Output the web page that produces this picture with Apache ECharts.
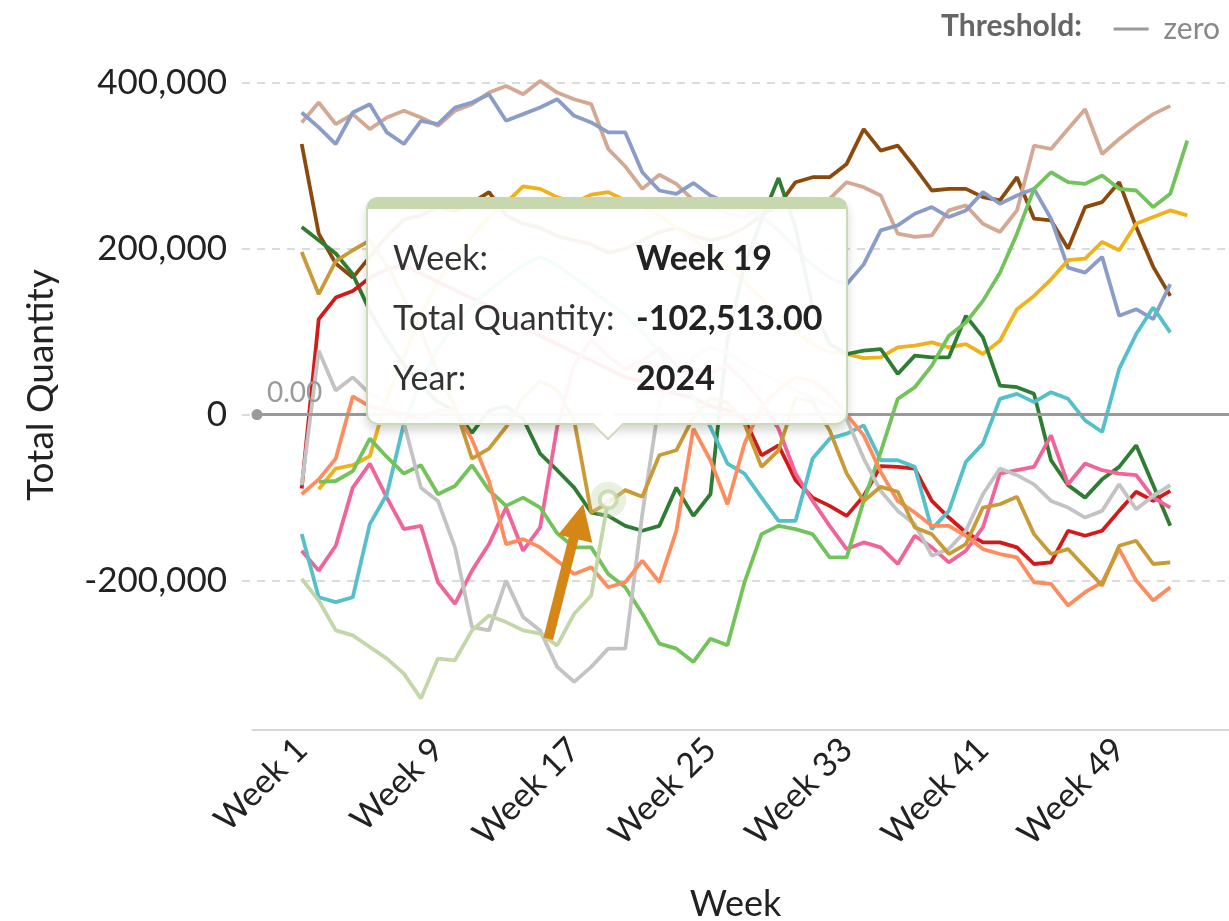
<!DOCTYPE html>
<html>
<head>
<meta charset="utf-8">
<script src="https://cdn.jsdelivr.net/npm/echarts@6/dist/echarts.min.js"></script>
<style>
html,body{margin:0;padding:0;background:#fff;}
#chart{width:1229px;height:921px;}
</style>
</head>
<body>
<div id="chart"></div>
<script>
// ---------- data ----------
const weeks = [1,2,3,4,5,6,7,8,9,10,11,12,13,14,15,16,17,18,19,20,21,22,23,24,25,26,27,28,29,30,31,32,33,34,35,36,37,38,39,40,41,42,43,44,45,46,47,48,49,50,51,52,53];
const xTickWeeks = [1,9,17,25,33,41,49];
const yTickValues = [-200000,0,200000,400000];

const years = ['2012','2013','2014','2015','2016','2017','2018','2019','2020','2021','2022','2023','2024'];
const colors = ['#8b4a0c','#d4a892','#8a9cc8','#f0b21c','#2e7d32','#d11a1a','#f0649a','#55c0cb','#72c35a','#c3c3c3','#fd8d5f','#c99a35','#c2d6a8'];

const qty2012 = [326000,218000,182000,165000,190000,215000,235000,240000,250000,245000,255000,268000,240000,230000,225000,215000,210000,205000,195000,200000,210000,220000,225000,215000,210000,215000,225000,240000,252000,280000,286000,286000,302000,344000,318000,324000,298000,270000,272000,272000,262000,258000,286000,236000,234000,200000,250000,256000,280000,226000,178000,143000,null];
const qty2013 = [352000,376000,350000,362000,344000,358000,366000,358000,348000,366000,374000,388000,396000,386000,402000,388000,380000,374000,320000,299000,272000,289000,278000,258000,250000,242000,238000,246000,255000,250000,258000,260000,280000,274000,264000,218000,214000,216000,246000,252000,230000,220000,246000,324000,320000,344000,368000,314000,332000,348000,362000,372000,null];
const qty2014 = [364000,346000,326000,364000,374000,340000,326000,354000,350000,370000,376000,386000,354000,362000,370000,380000,360000,352000,340000,340000,292000,270000,266000,279000,264000,255000,248000,238000,222000,200000,180000,165000,157000,181000,222000,228000,242000,250000,238000,246000,268000,254000,264000,272000,236000,177000,171000,190000,119000,127000,115000,157000,null];
const qty2015 = [null,-90000,-65000,-61000,-50000,20000,70000,120000,160000,190000,215000,238000,255000,275000,272000,262000,255000,265000,268000,258000,250000,240000,225000,210000,195000,178000,160000,140000,120000,100000,85000,75000,73000,68000,69000,81000,83000,87000,81000,85000,73000,89000,127000,143000,163000,186000,188000,208000,198000,230000,238000,246000,240000];
const qty2016 = [226000,210000,194000,169000,125000,90000,60000,35000,15000,5000,-22000,5000,10000,-5000,-47000,-67000,-88000,-118000,-122000,-134000,-140000,-134000,-88000,-122000,-96000,90000,180000,235000,285000,225000,130000,85000,73000,77000,79000,49000,71000,69000,69000,119000,93000,35000,33000,25000,-55000,-85000,-100000,-78000,-63000,-37000,-85000,-134000,null];
const qty2017 = [-89000,115000,141000,149000,165000,175000,180000,170000,160000,150000,140000,130000,120000,105000,95000,85000,75000,65000,55000,45000,40000,30000,25000,20000,10000,5000,-5000,-49000,-37000,-79000,-100000,-110000,-122000,-98000,-62000,-63000,-65000,-104000,-124000,-142000,-154000,-154000,-160000,-180000,-178000,-140000,-146000,-140000,-116000,-93000,-104000,-92000,null];
const qty2018 = [-164000,-188000,-158000,-88000,-59000,-100000,-138000,-134000,-202000,-228000,-188000,-156000,-112000,-164000,-136000,-15000,60000,90000,70000,55000,65000,80000,60000,45000,50000,60000,40000,15000,-17000,-71000,-104000,-134000,-162000,-154000,-160000,-180000,-146000,-160000,-178000,-164000,-136000,-71000,-67000,-63000,-25000,-84000,-59000,-67000,-71000,-73000,-100000,-112000,null];
const qty2019 = [-144000,-220000,-226000,-220000,-132000,-96000,-11000,40000,80000,110000,130000,150000,165000,180000,190000,180000,165000,150000,135000,120000,100000,75000,50000,20000,-15000,-59000,-71000,-100000,-128000,-128000,-53000,-29000,-23000,-13000,-55000,-55000,-63000,-138000,-116000,-57000,-35000,19000,25000,15000,27000,19000,-7000,-21000,55000,97000,129000,99000,null];
const qty2020 = [null,-81000,-80000,-68000,-29000,-51000,-71000,-61000,-96000,-86000,-61000,-91000,-110000,-100000,-112000,-143000,-160000,-160000,-192000,-208000,-240000,-276000,-282000,-298000,-270000,-278000,-202000,-144000,-134000,-138000,-144000,-172000,-172000,-104000,-45000,19000,33000,59000,95000,111000,137000,171000,218000,272000,292000,280000,278000,288000,272000,270000,250000,266000,330000];
const qty2021 = [-85000,77000,29000,45000,25000,15000,-10000,-88000,-104000,-160000,-256000,-260000,-200000,-244000,-260000,-304000,-322000,-304000,-282000,-282000,-120000,15000,45000,70000,80000,75000,60000,50000,40000,30000,20000,10000,-5000,-53000,-92000,-116000,-132000,-170000,-162000,-140000,-96000,-65000,-73000,-84000,-104000,-112000,-124000,-116000,-84000,-114000,-98000,-85000,null];
const qty2022 = [-96000,-78000,-53000,22000,10000,5000,0,-5000,5000,5000,-30000,-80000,-156000,-150000,-160000,-176000,-192000,-184000,-208000,-202000,-176000,-202000,-140000,-17000,-55000,-108000,-35000,9000,30000,45000,40000,25000,0,-25000,-69000,-104000,-118000,-134000,-134000,-146000,-162000,-168000,-172000,-202000,-204000,-230000,-214000,-202000,-162000,-200000,-224000,-208000,null];
const qty2023 = [196000,145000,185000,198000,210000,180000,140000,100000,50000,10000,-53000,-41000,-15000,20000,40000,30000,-7000,-118000,-106000,-91000,-99000,-49000,-43000,-3000,20000,15000,-11000,-63000,-43000,20000,15000,-19000,-71000,-104000,-87000,-93000,-136000,-144000,-168000,-156000,-112000,-108000,-99000,-144000,-168000,-162000,-184000,-206000,-158000,-152000,-180000,-178000,null];
const qty2024 = [-198000,-224000,-260000,-266000,-280000,-294000,-312000,-342000,-294000,-296000,-260000,-242000,-250000,-260000,-264000,-278000,-240000,-218000,-102513];

const highlightWeek = 19;
const thresholdValue = 0;

// ---------- chart ----------
const allQty = [qty2012,qty2013,qty2014,qty2015,qty2016,qty2017,qty2018,qty2019,qty2020,qty2021,qty2022,qty2023,qty2024];
const X_MIN = -2.505, X_MAX = 55.45, Y_MIN = -380000, Y_MAX = 420000;
const FONT = 'Lato';
const hlColor = colors[12];
const hlIndex = weeks.indexOf(highlightWeek);
const hlValue = qty2024[hlIndex];

const lineSeries = allQty.map((arr, k) => ({
  name: years[k],
  type: 'line',
  data: weeks.map((w, i) => [w, arr[i]]).filter(p => p[1] !== null && p[1] !== undefined),
  showSymbol: false,
  symbol: 'none',
  lineStyle: {width: 3.8, color: colors[k]},
  itemStyle: {color: colors[k]},
  emphasis: {disabled: true},
  silent: true,
  z: 2
}));

const zeroSeries = {
  name: 'zero',
  type: 'line',
  data: [],
  lineStyle: {color: '#9a9a9a', width: 3},
  itemStyle: {color: '#9a9a9a'},
  markLine: {
    silent: true,
    animation: false,
    symbol: ['none', 'none'],
    lineStyle: {color: '#9a9a9a', width: 3, type: 'solid'},
    data: [
      [
        {coord: [-1.625, thresholdValue], symbol: 'circle', symbolSize: 11,
         label: {show: true, formatter: '0.00', position: 'insideStartTop', distance: [10, 8],
                 fontFamily: FONT, fontSize: 28, color: '#9a9a9a'}},
        {coord: [X_MAX, thresholdValue], symbol: 'none'}
      ],
      [
        {coord: [-1.94, Y_MIN], symbol: 'none', lineStyle: {color: '#d6d6d6', width: 2, type: 'solid'}, label: {show: false}},
        {coord: [X_MAX, Y_MIN], symbol: 'none'}
      ]
    ]
  },
  z: 3
};

const haloSeries = {
  name: years[12] + ' halo',
  type: 'scatter',
  data: [[highlightWeek, hlValue]],
  symbol: 'circle',
  symbolSize: 36,
  itemStyle: {color: 'rgba(194,214,168,0.45)'},
  emphasis: {disabled: true},
  z: 5
};
const ringSeries = {
  name: years[12],
  type: 'scatter',
  data: [[highlightWeek, hlValue]],
  symbol: 'circle',
  symbolSize: 17,
  itemStyle: {color: '#ffffff', borderColor: hlColor, borderWidth: 4},
  emphasis: {disabled: true},
  z: 6
};

const chart = echarts.init(document.getElementById('chart'), null, {renderer: 'canvas'});

const tipBorder = '#cbdab6';
chart.setOption({
  animation: false,
  backgroundColor: '#ffffff',
  title: {
    text: 'Threshold:',
    right: 142, top: 6,
    textStyle: {fontFamily: FONT, fontSize: 30, fontWeight: 'bold', color: '#666'}
  },
  legend: {
    data: [{name: 'zero', icon: 'rect'}],
    right: 4, top: 9,
    itemWidth: 35, itemHeight: 3, itemGap: 10,
    selectedMode: false,
    textStyle: {fontFamily: FONT, fontSize: 30, color: '#888', padding: [0, 0, 0, 10]}
  },
  grid: {left: 242, right: 0, top: 66, bottom: 191, containLabel: false, outerBoundsMode: 'none'},
  tooltip: {
    trigger: 'item',
    triggerOn: 'none',
    alwaysShowContent: true,
    transitionDuration: 0,
    padding: 0,
    backgroundColor: 'rgba(255,255,255,0.94)',
    borderWidth: 0,
    position: [366, 197],
    extraCssText: 'box-sizing:border-box;width:482px;height:228px;border:2px solid ' + tipBorder +
      ';border-top:12px solid #c7d7ae;border-radius:12px;box-shadow:0 6px 10px rgba(0,0,0,0.16);',
    formatter: function (p) {
      const wk = 'Week ' + p.value[0];
      const val = Number(p.value[1]).toLocaleString('en-US', {minimumFractionDigits: 2, maximumFractionDigits: 2});
      const row = (a, b) => '<div style="display:flex;height:60px;line-height:60px;"><span style="width:243px;">' + a +
        '</span><span style="font-weight:700;color:#222;">' + b + '</span></div>';
      return '<div style="font-family:Lato;font-size:34px;color:#333;padding:18px 0 0 25px;">' +
        row('Week:', wk) + row('Total Quantity:', val) + row('Year:', p.seriesName) + '</div>' +
        '<div style="position:absolute;left:229px;bottom:-13px;width:20px;height:20px;background:#fff;' +
        'border-right:2px solid ' + tipBorder + ';border-bottom:2px solid ' + tipBorder + ';transform:rotate(45deg);"></div>';
    }
  },
  xAxis: {
    type: 'value',
    min: X_MIN, max: X_MAX,
    axisLine: {show: false},
    axisTick: {show: false, customValues: xTickWeeks},
    splitLine: {show: false},
    axisLabel: {
      customValues: xTickWeeks,
      formatter: v => 'Week ' + v,
      rotate: 45, margin: 14,
      fontFamily: FONT, fontSize: 34, color: '#222'
    },
    name: 'Week', nameLocation: 'middle', nameGap: 156,
    nameTextStyle: {fontFamily: FONT, fontSize: 36, color: '#222'}
  },
  yAxis: {
    type: 'value',
    min: Y_MIN, max: Y_MAX,
    axisLine: {show: false},
    axisTick: {show: false, customValues: yTickValues},
    axisLabel: {
      customValues: yTickValues,
      formatter: v => Number(v).toLocaleString('en-US'),
      margin: 15,
      fontFamily: FONT, fontSize: 35, color: '#222'
    },
    splitLine: {show: true, lineStyle: {color: '#cfcfcf', width: 1.5, type: [8, 7]}},
    name: 'Total Quantity', nameLocation: 'middle', nameGap: 182,
    nameTextStyle: {fontFamily: FONT, fontSize: 37, color: '#222', padding: [0, 0, 0, 26]}
  },
  series: [zeroSeries].concat(lineSeries, [haloSeries, ringSeries])
});

// annotation arrow pointing at the highlighted point
const p = chart.convertToPixel({gridIndex: 0}, [highlightWeek, hlValue]);
const arrowColor = '#d48616';
chart.setOption({
  graphic: [
    {type: 'line', z: 100, shape: {x1: p[0] - 60, y1: p[1] + 139, x2: p[0] - 34, y2: p[1] + 36},
     style: {stroke: arrowColor, lineWidth: 10}},
    {type: 'polygon', z: 100, shape: {points: [[p[0] - 25, p[1] + 4], [p[0] - 50, p[1] + 35], [p[0] - 16, p[1] + 43]]},
     style: {fill: arrowColor}}
  ]
});

const ringIdx = 1 + lineSeries.length + 1;
chart.dispatchAction({type: 'showTip', seriesIndex: ringIdx, dataIndex: 0});
</script>
</body>
</html>
